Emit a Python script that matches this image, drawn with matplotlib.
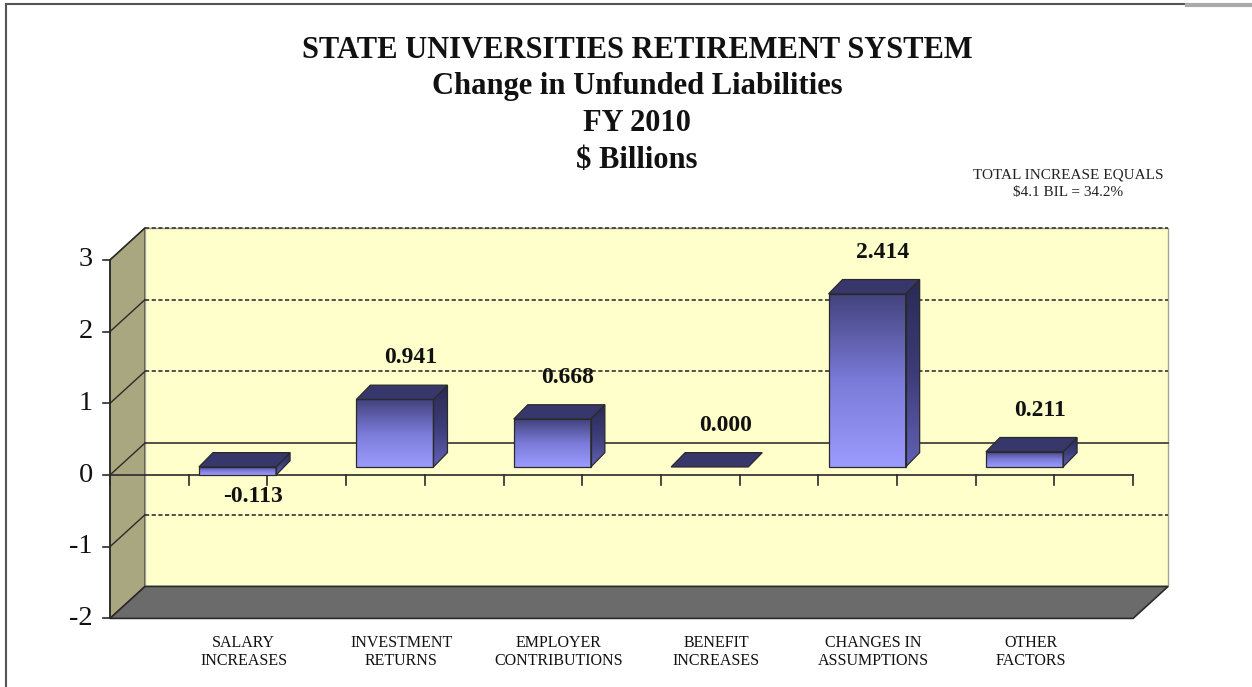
import numpy as np
import matplotlib.pyplot as plt
from matplotlib.patches import Polygon, Rectangle
from matplotlib.lines import Line2D
from matplotlib.colors import LinearSegmentedColormap

# data
categories = ['SALARY\nINCREASES', 'INVESTMENT\nRETURNS', 'EMPLOYER\nCONTRIBUTIONS',
              'BENEFIT\nINCREASES', 'CHANGES IN\nASSUMPTIONS', 'OTHER\nFACTORS']
values = [-0.113, 0.941, 0.668, 0.000, 2.414, 0.211]
value_labels = ['-0.113', '0.941', '0.668', '0.000', '2.414', '0.211']
y_ticks = [-2, -1, 0, 1, 2, 3]
title_lines = ['STATE UNIVERSITIES RETIREMENT SYSTEM', 'Change in Unfunded Liabilities',
               'FY 2010', r'\$ Billions']
note = 'TOTAL INCREASE EQUALS\n\\$4.1 BIL = 34.2%'

plt.rcParams['font.family'] = ['Liberation Serif', 'DejaVu Serif']

W, H = 1252, 687
fig = plt.figure(figsize=(W / 100, H / 100), dpi=100)
ax = fig.add_axes([0, 0, 1, 1])
ax.axis('off')

# pseudo-3d geometry (data units)
n_slots = 2 * len(values) + 1
ymin, ymax = y_ticks[0], y_ticks[-1]
bx, by = 0.445, 0.446      # depth of back wall
ox, oy = 0.13, 0.112       # bars' front plane
dx, dy = 0.178, 0.20       # bar depth
bw = 0.98
edge = '#2a2a2a'

# walls and floor
ax.add_patch(Polygon([(0, ymin), (0, ymax), (bx, ymax + by), (bx, ymin + by)],
                     fc='#a9a780', ec=edge, lw=1, zorder=1))
ax.add_patch(Rectangle((bx, ymin + by), n_slots, ymax - ymin,
                       fc='#ffffcc', ec='#a5a596', lw=1, zorder=1))
for v in y_ticks[1:]:
    ax.plot([0, bx], [v, v + by], color=edge, lw=1, zorder=2)
    ax.plot([bx, bx + n_slots], [v + by, v + by], color='#333333', lw=1.2,
            ls='-' if v == 0 else (0, (2.5, 1.5)), zorder=2)
ax.add_patch(Polygon([(0, ymin), (n_slots, ymin), (n_slots + bx, ymin + by), (bx, ymin + by)],
                     fc='#6b6b6b', ec=edge, lw=1.2, zorder=2))

# axes lines
ax.plot([0, 0], [ymin, ymax], color=edge, lw=1.2, zorder=3)
for v in y_ticks:
    ax.plot([-0.09, 0], [v, v], color=edge, lw=1.2, zorder=3)
    ax.text(-0.22, v, str(v), ha='right', va='center', fontsize=20.5, color='#111111')
ax.plot([0, n_slots], [0, 0], color=edge, lw=1.2, zorder=3)
for t in range(n_slots + 1):
    ax.plot([t, t], [0, -0.14], color=edge, lw=1.2, zorder=3)

front_cmap = LinearSegmentedColormap.from_list('front', ['#9c9cff', '#7a7ad8', '#42427c'])
side_cmap = LinearSegmentedColormap.from_list('side', ['#6262b8', '#3c3c78', '#2a2a55'])
grad = np.linspace(0, 1, 256).reshape(-1, 1)

for i, val in enumerate(values):
    x0 = 2 * i + 1 + ox
    lo = min(0, val) + oy
    hi = max(0, val) + oy
    if hi - lo > 1e-6:
        ax.imshow(grad, extent=[x0, x0 + bw, lo, hi], origin='lower', cmap=front_cmap,
                  aspect='auto', zorder=4)
        side = Polygon([(x0 + bw, lo), (x0 + bw + dx, lo + dy), (x0 + bw + dx, hi + dy), (x0 + bw, hi)],
                       fc='none', ec=edge, lw=0.9, zorder=5)
        ax.add_patch(side)
        im = ax.imshow(grad, extent=[x0 + bw, x0 + bw + dx, lo, hi + dy], origin='lower',
                       cmap=side_cmap, aspect='auto', zorder=4)
        im.set_clip_path(side)
        ax.add_patch(Rectangle((x0, lo), bw, hi - lo, fc='none', ec=edge, lw=0.9, zorder=5))
    ax.add_patch(Polygon([(x0, hi), (x0 + bw, hi), (x0 + bw + dx, hi + dy), (x0 + dx, hi + dy)],
                         fc='#37376b', ec=edge, lw=0.9, zorder=5))
    cx = x0 + bw / 2 + 0.2
    if val >= 0:
        ax.text(cx, hi + dy + 0.38, value_labels[i], ha='center', va='center',
                fontsize=17, fontweight='bold', color='#111111', zorder=6)
    else:
        ax.text(cx, lo - 0.3, value_labels[i], ha='center', va='center',
                fontsize=17, fontweight='bold', color='#111111', zorder=6)
    ax.text(2 * i + 1.5 + 0.2, -2.47, categories[i], ha='center', va='center',
            fontsize=11.5, linespacing=1.1, color='#111111')

# titles
for k, line in enumerate(title_lines):
    fig.text(637 / W, 1 - (50 + 36.7 * k) / H, line, ha='center', va='center',
             fontsize=22, fontweight='bold', color='#111111')
fig.text(1068 / W, 1 - 184 / H, note, ha='center', va='center', fontsize=11,
         linespacing=1.45, color='#222222')

# page frame
fig.add_artist(Line2D([6 / W, 6 / W], [0, 1 - 4 / H], color='#555555', lw=1.5))
fig.add_artist(Line2D([6 / W, 1187 / W], [1 - 4 / H, 1 - 4 / H], color='#555555', lw=1.5))
fig.add_artist(Line2D([1187 / W, 1], [1 - 5 / H, 1 - 5 / H], color='#aaaaaa', lw=3))

ax.set_xlim(-110 / 78.7, (W - 110) / 78.7)
ax.set_ylim((475 - H) / 71.7, 475 / 71.7)

fig.savefig('out.png', dpi=100)
